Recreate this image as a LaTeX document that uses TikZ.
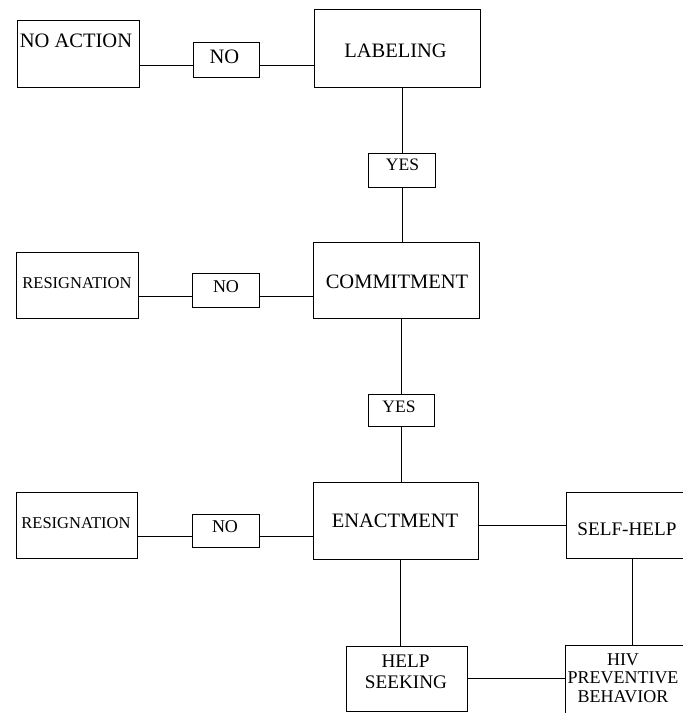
\documentclass[tikz,border=0pt]{standalone}
\usepackage{fontspec}
\setmainfont{Liberation Serif}
\begin{document}
\begin{tikzpicture}[x=1pt,y=-1pt,
  box/.style={draw=black,line width=0.9pt,inner sep=0pt,outer sep=0pt,rectangle},
  conn/.style={draw=black,line width=0.8pt},
  txt/.style={inner sep=0pt,anchor=base,align=center},
  fbig/.style={font=\fontsize{20.5}{22}\selectfont},
  fmid/.style={font=\fontsize{19.2}{21}\selectfont},
  fsm/.style={font=\fontsize{16.5}{18}\selectfont},
  fno/.style={font=\fontsize{18}{20}\selectfont},
  fyes/.style={font=\fontsize{17.5}{19}\selectfont}]
\useasboundingbox (0,0) rectangle (683,713);
\clip (0,0) rectangle (683,713);
% boxes
\node[box,minimum width=122pt,minimum height=67pt] (noaction) at (78,53.5) {};
\node[box,minimum width=66pt,minimum height=35pt] (no1) at (226,59.5) {};
\node[box,minimum width=166pt,minimum height=78pt] (labeling) at (397,48) {};
\node[box,minimum width=67pt,minimum height=34pt] (yes1) at (401.5,170) {};
\node[box,minimum width=122pt,minimum height=66pt] (resig1) at (77,285) {};
\node[box,minimum width=67pt,minimum height=34pt] (no2) at (225.5,290) {};
\node[box,minimum width=166pt,minimum height=76pt] (commit) at (396,280) {};
\node[box,minimum width=66pt,minimum height=32pt] (yes2) at (401,410) {};
\node[box,minimum width=121pt,minimum height=66pt] (resig2) at (76.5,525) {};
\node[box,minimum width=67pt,minimum height=33pt] (no3) at (225.5,530.5) {};
\node[box,minimum width=165pt,minimum height=77pt] (enact) at (395.5,520.5) {};
\node[box,minimum width=134pt,minimum height=66pt] (selfhelp) at (633,525) {};
\node[box,minimum width=121pt,minimum height=65pt] (help) at (406.5,678.5) {};
\node[box,minimum width=125pt,minimum height=85pt] (hiv) at (627.5,687.5) {};
% texts
\node[txt,fbig] (tnoaction) at (76,47) {NO ACTION};
\node[txt,fbig] (tno1) at (224.5,63) {NO};
\node[txt,fbig] (tlabeling) at (395.5,57) {LABELING};
\node[txt,fyes] (tyes1) at (402.5,170) {YES};
\node[txt,fsm] (tresig1) at (77,288) {RESIGNATION};
\node[txt,fno] (tno2) at (226,292) {NO};
\node[txt,fbig] (tcommit) at (397,288) {COMMITMENT};
\node[txt,fyes] (tyes2) at (399,412) {YES};
\node[txt,fsm] (tresig2) at (76,528) {RESIGNATION};
\node[txt,fno] (tno3) at (225,532) {NO};
\node[txt,fbig] (tenact) at (395,527) {ENACTMENT};
\node[txt,fmid] (tselfhelp) at (627,535) {SELF-HELP};
\node[txt,fmid] (thelp1) at (405.5,667) {HELP};
\node[txt,fmid] (thelp2) at (406,688) {SEEKING};
\node[txt,fno] (thiv1) at (623,665) {HIV};
\node[txt,fno] (thiv2) at (623,683) {PREVENTIVE};
\node[txt,fno] (thiv3) at (623,702) {BEHAVIOR};
% connector guides
\coordinate (h1) at (0,65);
\coordinate (h2) at (0,296);
\coordinate (h3) at (0,536);
\coordinate (h4) at (0,525);
\coordinate (h5) at (0,678);
\coordinate (v1) at (402,0);
\coordinate (v2) at (401,0);
\coordinate (v3) at (400,0);
\coordinate (v4) at (632,0);
% connectors
\draw[conn] (noaction.east |- h1) -- (no1.west |- h1);
\draw[conn] (no1.east |- h1) -- (labeling.west |- h1);
\draw[conn] (labeling.south -| v1) -- (yes1.north -| v1);
\draw[conn] (yes1.south -| v1) -- (commit.north -| v1);
\draw[conn] (resig1.east |- h2) -- (no2.west |- h2);
\draw[conn] (no2.east |- h2) -- (commit.west |- h2);
\draw[conn] (commit.south -| v2) -- (yes2.north -| v2);
\draw[conn] (yes2.south -| v2) -- (enact.north -| v2);
\draw[conn] (resig2.east |- h3) -- (no3.west |- h3);
\draw[conn] (no3.east |- h3) -- (enact.west |- h3);
\draw[conn] (enact.east |- h4) -- (selfhelp.west |- h4);
\draw[conn] (enact.south -| v3) -- (help.north -| v3);
\draw[conn] (selfhelp.south -| v4) -- (hiv.north -| v4);
\draw[conn] (help.east |- h5) -- (hiv.west |- h5);
\end{tikzpicture}
\end{document}
